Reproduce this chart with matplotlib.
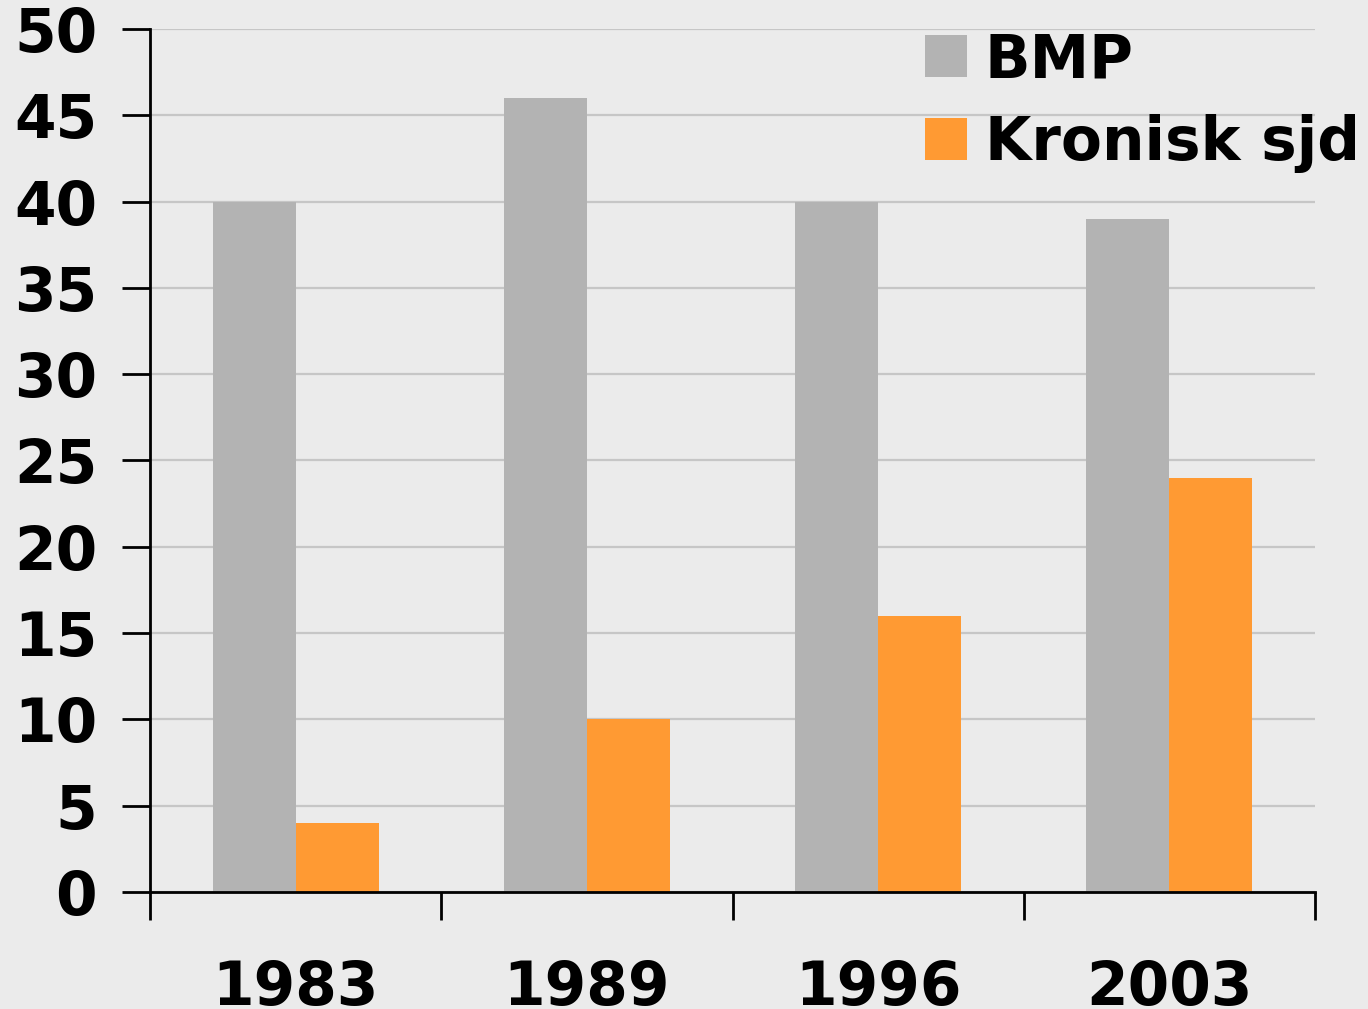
import numpy as np
import matplotlib.pyplot as plt

years = ['1983', '1989', '1996', '2003']
bmp = [40, 46, 40, 39]
kronisk = [4, 10, 16, 24]

bg = '#ebebeb'
plt.rcParams['font.family'] = 'DejaVu Sans'
plt.rcParams['font.weight'] = 'bold'

fig = plt.figure(figsize=(13.68, 10.09), dpi=100, facecolor=bg)
ax = fig.add_axes([150/1368, 1-892/1009, 1165/1368, 863/1009])
ax.set_facecolor(bg)

x = np.arange(len(years))
w = 0.285
ax.bar(x - w/2, bmp, w, color='#b3b3b3', label='BMP', zorder=2)
ax.bar(x + w/2, kronisk, w, color='#ff9a33', label='Kronisk sjd', zorder=2)

ax.set_xlim(-0.5, len(years) - 0.5)
ax.set_ylim(0, 50)

# group separators as tick marks, year labels on minor ticks
ax.set_xticks(np.arange(-0.5, len(years), 1.0))
ax.set_xticklabels([])
ax.set_xticks(x, years, minor=True)
ax.tick_params(axis='x', which='major', length=20, width=2, direction='out')
ax.tick_params(axis='x', which='minor', length=0, pad=48, labelsize=43)

ax.set_yticks(np.arange(0, 51, 5))
ax.tick_params(axis='y', length=20, width=2, pad=18, labelsize=43)

ax.yaxis.grid(True, color='#c6c6c6', linewidth=1.6, zorder=0)
ax.set_axisbelow(True)
for s in ['top', 'right']:
    ax.spines[s].set_visible(False)
for s in ['left', 'bottom']:
    ax.spines[s].set_linewidth(2)

ax.legend(loc='upper left', bbox_to_anchor=(925/1368, 1-31/1009),
          bbox_transform=fig.transFigure, frameon=False, fontsize=43,
          handlelength=0.7, handleheight=0.7, handletextpad=0.3,
          labelspacing=0.4, borderaxespad=0, borderpad=0)

fig.savefig('out.png', facecolor=bg)
